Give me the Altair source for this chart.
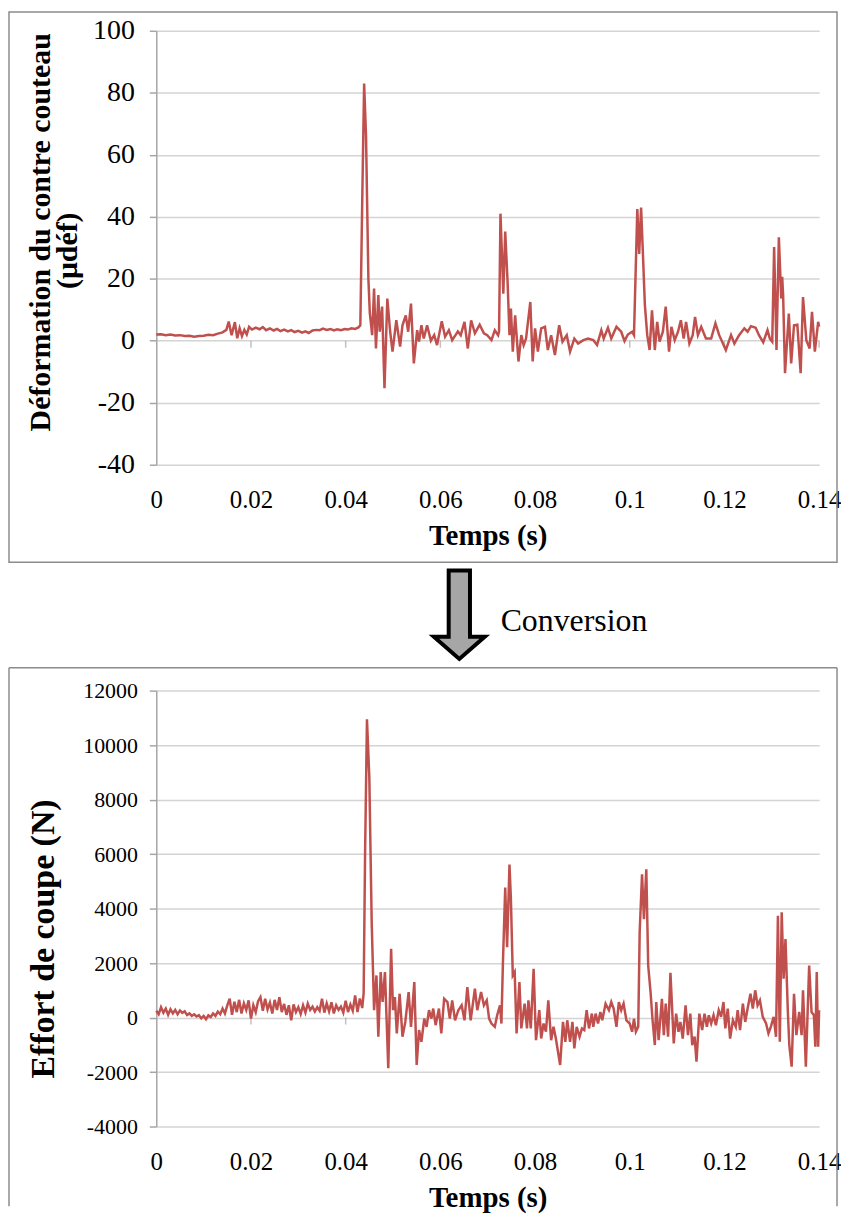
import altair as alt
import pandas as pd

FONT = "Liberation Serif"
RED = "#C0504D"
GRID = "#d4d4d4"
AXIS = "#a6a6a6"
FRAME = "#8c8c8c"

x_ticks = [0, 0.02, 0.04, 0.06, 0.08, 0.1, 0.12, 0.14]
top_y_ticks = [-40, -20, 0, 20, 40, 60, 80, 100]
bot_y_ticks = [-4000, -2000, 0, 2000, 4000, 6000, 8000, 10000, 12000]

# ---- top series: Déformation du contre couteau (µdéf) ----
t_top = [0.000, 0.001, 0.002, 0.003, 0.004, 0.005, 0.006, 0.007, 0.008, 0.009,
         0.010, 0.011, 0.012, 0.013, 0.014, 0.0148, 0.0153, 0.0159, 0.0166, 0.0171,
         0.0176, 0.0181, 0.0186, 0.0191, 0.0196, 0.0202, 0.0210, 0.0218, 0.0225, 0.0232,
         0.0240, 0.0248, 0.0255, 0.0262, 0.0270, 0.0278, 0.0285, 0.0292, 0.0300, 0.0308,
         0.0315, 0.0322, 0.0330, 0.0338, 0.0345, 0.0352, 0.0360, 0.0368, 0.0375, 0.0382,
         0.0390, 0.0398, 0.0405, 0.0412, 0.0420, 0.0427, 0.0431, 0.0435, 0.0439, 0.0443,
         0.0448, 0.0451, 0.0456, 0.0460, 0.0464, 0.0469, 0.0472, 0.0477, 0.0482, 0.0488,
         0.0494, 0.0499, 0.0507, 0.0515, 0.0520, 0.0527, 0.0532, 0.0538, 0.0544, 0.0551,
         0.0555, 0.0560, 0.0565, 0.0572, 0.0580, 0.0587, 0.0593, 0.0603, 0.0610, 0.0618,
         0.0625, 0.0632, 0.0637, 0.0643, 0.0651, 0.0658, 0.0665, 0.0673, 0.0683, 0.0692,
         0.0699, 0.0708, 0.0715, 0.0722, 0.0724, 0.0727, 0.0733, 0.0737, 0.0742, 0.0746,
         0.0749, 0.0753, 0.0758, 0.0765, 0.0771, 0.0776, 0.0781, 0.0790, 0.0795, 0.0800,
         0.0806, 0.0813, 0.0821, 0.0827, 0.0834, 0.0842, 0.0851, 0.0858, 0.0867, 0.0874,
         0.0883, 0.0891, 0.0902, 0.0912, 0.0923, 0.0931, 0.0940, 0.0945, 0.0954, 0.0961,
         0.0972, 0.0982, 0.0989, 0.0996, 0.1005, 0.1009, 0.1016, 0.1020, 0.1024, 0.1028,
         0.1032, 0.1037, 0.1042, 0.1047, 0.1053, 0.1058, 0.1063, 0.1070, 0.1076, 0.1083,
         0.1088, 0.1095, 0.1102, 0.1108, 0.1114, 0.1119, 0.1126, 0.1133, 0.1138, 0.1144,
         0.1151, 0.1161, 0.1172, 0.1181, 0.1189, 0.1203, 0.1214, 0.1221, 0.1231, 0.1242,
         0.1249, 0.1256, 0.1266, 0.1273, 0.1282, 0.1291, 0.1296, 0.1301, 0.1305, 0.1310,
         0.1315, 0.1320, 0.1322, 0.1324, 0.1328, 0.1336, 0.1341, 0.1347, 0.1354, 0.1361,
         0.1366, 0.1373, 0.1380, 0.1385, 0.1391, 0.1398, 0.1400]
v_top = [2.0, 2.1, 1.8, 2.0, 1.7, 1.8, 1.5, 1.6, 1.3, 1.5,
         1.6, 1.9, 1.8, 2.3, 2.7, 3.5, 6.2, 1.8, 6.0, 0.8,
         4.0, 1.5, 3.5, 2.0, 4.5, 3.6, 4.2, 3.7, 4.4, 3.4,
         4.0, 3.3, 3.8, 3.1, 3.6, 3.0, 3.4, 2.8, 3.2, 2.6,
         3.0, 2.5, 3.3, 3.5, 3.4, 3.9, 3.5, 3.8, 3.3, 3.7,
         3.4, 3.8, 3.6, 4.0, 3.8, 4.3, 5.0, 45, 83, 66,
         20, 9, 1.8, 16.8, -2.5, 14.7, 2.9, 11, -15.3, 13.6,
         2.9, -3.5, 6.6, -1.9, 5, 8.2, 2.9, 12, -7.3, 3.4,
         -0.3, 5, 0.7, 5, 0, 1.8, -1.4, 6.3, 1.3, 3.4,
         0.2, 1.8, 3.0, 1.8, 6.1, -2.5, 6.6, 2.4, 5.2, 2.4,
         1.8, 0.2, 3.4, 1.8, 3.0, 41, 15.2, 35.2, 19, 1.8,
         10.4, -3.5, 8.2, -6.7, 1.8, -1.4, 0.7, 12.5, -6.7, 4,
         -3.5, 4, 4.5, -3, 1.8, -4.6, 5, -0.3, 1.8, -3.5,
         0.7, -0.9, 0.2, 0.7, 0.2, -1.4, 3.4, 0.7, 4.2, 0.7,
         4.5, 2.9, -0.1, 2, 2.9, 1.8, 42.5, 28, 43, 27.5,
         11.5, 1.8, -3, 9.8, -3, 6.1, -0.3, 2.9, 11, -3.5,
         4.5, 0.2, 2.9, 6.6, 0.7, 6.1, -0.9, 1.8, 7.7, 1.8,
         4.5, 0.7, 0.7, 5.6, 1.8, -3, 1.8, -0.9, 1.8, 4,
         2.9, 4.7, 4.2, 1.8, -0.5, 3.4, 0.7, -0.3, 30.2, -3,
         33.4, 13.6, 20.6, 14.7, -10.5, 8.8, -7.3, 5, 5.2, -10.5,
         14.1, 0.2, -2.5, 9.3, -3.5, 6.1, 4.5]

# ---- bottom series: Effort de coupe (N) ----
t_bot = [0.0000, 0.0005, 0.0010, 0.0015, 0.0020, 0.0025, 0.0030, 0.0035, 0.0040, 0.0045,
         0.0050, 0.0055, 0.0060, 0.0065, 0.0070, 0.0075, 0.0080, 0.0085, 0.0090, 0.0095,
         0.0100, 0.0105, 0.0110, 0.0115, 0.0120, 0.0125, 0.0130, 0.0135, 0.0140, 0.0145,
         0.0150, 0.0155, 0.0160, 0.0165, 0.0170, 0.0175, 0.0180, 0.0185, 0.0190, 0.0195,
         0.0200, 0.0205, 0.0210, 0.0215, 0.0220, 0.0225, 0.0230, 0.0235, 0.0240, 0.0245,
         0.0250, 0.0255, 0.0260, 0.0265, 0.0270, 0.0275, 0.0280, 0.0285, 0.0290, 0.0295,
         0.0300, 0.0305, 0.0310, 0.0315, 0.0320, 0.0325, 0.0330, 0.0335, 0.0340, 0.0345,
         0.0350, 0.0355, 0.0360, 0.0365, 0.0370, 0.0375, 0.0380, 0.0385, 0.0390, 0.0395,
         0.0400, 0.0405, 0.0410, 0.0415, 0.0420, 0.0425, 0.0430, 0.0435,
         0.0438, 0.0441, 0.0445, 0.0450, 0.0453, 0.0455, 0.0460, 0.0465, 0.0469, 0.0474,
         0.0478, 0.0483, 0.0490, 0.0496, 0.0500, 0.0504, 0.0508, 0.0514, 0.0520, 0.0526,
         0.0533, 0.0538, 0.0545, 0.0550, 0.0555, 0.0560, 0.0566, 0.0571, 0.0576, 0.0581,
         0.0585, 0.0590, 0.0597, 0.0602, 0.0608, 0.0615, 0.0620, 0.0625, 0.0631, 0.0638,
         0.0645, 0.0651, 0.0657, 0.0664, 0.0673, 0.0678, 0.0686, 0.0692, 0.0698, 0.0703,
         0.0708, 0.0715, 0.0720, 0.0726, 0.0729, 0.0732, 0.0737, 0.0741, 0.0746, 0.0749,
         0.0753, 0.0757, 0.0761, 0.0767, 0.0771, 0.0778, 0.0783, 0.0786, 0.0791, 0.0797,
         0.0802, 0.0809, 0.0813, 0.0818, 0.0823, 0.0828, 0.0834, 0.0839, 0.0844, 0.0853,
         0.0859, 0.0864, 0.0868, 0.0874, 0.0879, 0.0883, 0.0888, 0.0894, 0.0899, 0.0904,
         0.0909, 0.0914, 0.0920, 0.0923, 0.0928, 0.0933, 0.0938, 0.0942, 0.0949, 0.0956,
         0.0961, 0.0966, 0.0972, 0.0977, 0.0982, 0.0987, 0.0993, 0.1000, 0.1005, 0.1009,
         0.1013, 0.1018, 0.1021, 0.1026, 0.1030, 0.1035, 0.1039, 0.1044, 0.1048, 0.1053,
         0.1056, 0.1061, 0.1068, 0.1072, 0.1076, 0.1081, 0.1086, 0.1093, 0.1098, 0.1103,
         0.1107, 0.1112, 0.1118, 0.1123, 0.1128, 0.1132, 0.1137, 0.1141, 0.1147, 0.1153,
         0.1158, 0.1163, 0.1167, 0.1172, 0.1177, 0.1182, 0.1188, 0.1193, 0.1198, 0.1202,
         0.1207, 0.1212, 0.1218, 0.1224, 0.1228, 0.1233, 0.1239, 0.1244, 0.1249, 0.1255,
         0.1260, 0.1265, 0.1270, 0.1275, 0.1281, 0.1288, 0.1293, 0.1298, 0.1304, 0.1309,
         0.1313, 0.1317, 0.1321, 0.1325, 0.1329, 0.1334, 0.1337, 0.1342, 0.1347, 0.1352,
         0.1358, 0.1363, 0.1366, 0.1372, 0.1379, 0.1384, 0.1389, 0.1392, 0.1395, 0.1398,
         0.1400]
v_bot = [250, 120, 380, 180, 330, 100, 300, 150, 280, 120,
         260, 170, 230, 90, 150, 60, 120, 40, 90, -30,
         60, -60, 80, 20, 150, 60, 220, 120, 330, 150,
         450, 690, 100, 580, 200, 650, 150, 520, 280, 630,
         -40, 450, 200, 600, 750, 250, 690, 300, 550, 150,
         650, 280, 750, 200, 500, 100, 450, -100, 480, 200,
         380, 130, 450, 180, 510, 280, 400, 220, 380, 250,
         690, 180, 520, 230, 560, 150, 450, 280, 400, 180,
         620, 200, 480, 250, 810, 200, 700, 350,
         900, 6000, 10950, 8800, 5560, 3490, 270, 1545, -705, 1667,
         570, 1667, -1860, 2520, 270, 750, -585, 875, -705, -160,
         935, -340, 1300, -1740, -460, -890, -40, -340, 270, -40,
         330, -280, 330, -585, 690, 570, -40, 630, -100, 270,
         450, -100, 1120, -100, 1060, 270, 935, 450, 630, -40,
         -220, -340, 85, 450, -220, 1900, 4770, 2580, 5620, 4345,
         1545, 1670, -585, 1300, -400, 510, -400, 630, -400, 1790,
         -830, 270, -770, -220, -520, 630, -830, -340, -770, -1740,
         -160, -890, -100, -890, -160, -1130, -340, -705, -400, -460,
         270, -400, 145, -340, 145, -220, 205, -100, 510, 270,
         570, 330, -340, 570, 270, 510, -100, -220, -520, -40,
         -520, -340, 3130, 5260, 3610, 5440, 1910, 935, -40, -1010,
         570, -830, 690, -645, 510, -705, 1640, -950, 145, -520,
         -160, -770, 450, -645, 145, -1010, -700, -1620, 145, -460,
         145, -340, 85, -220, 85, -280, 270, 25, 570, -400,
         330, -770, -100, -340, 270, -460, 510, -160, 330, 875,
         330, 1000, 450, 630, 25, -220, -585, -340, 25, -705,
         3740, -890, 3860, 1425, 2885, 205, -1000, -1800, 875, -645,
         205, -645, 1000, -1800, 1910, 205, 85, -1070, 1667, -1070,
         270]

top_df = pd.DataFrame({"t": t_top, "v": v_top})
bot_df = pd.DataFrame({"t": t_bot, "v": v_bot})
tick_df = pd.DataFrame({"t": x_ticks[1:], "v": [0] * (len(x_ticks) - 1)})
one = pd.DataFrame({"k": [0]})

W = 666
H1 = 436
H2 = 438


def x_enc(label_size, title_size):
    return alt.X(
        "t:Q",
        scale=alt.Scale(domain=[0, 0.14], nice=False, zero=False),
        axis=alt.Axis(
            values=x_ticks, labelExpr="'' + datum.value", grid=False, domain=False,
            ticks=False, tickSize=0, labelPadding=23, labelFlush=False, labelOverlap=False,
            labelFont=FONT, labelFontSize=label_size, labelColor="black",
            title="Temps (s)", titleFont=FONT, titleFontSize=title_size,
            titleFontWeight="bold", titleColor="black", titleY=71,
            titleBaseline="middle",
        ),
    )


def y_enc(domain, ticks, title, label_size, label_pad, title_size, tx, ty):
    return alt.Y(
        "v:Q",
        scale=alt.Scale(domain=domain, nice=False, zero=False),
        axis=alt.Axis(
            values=ticks, labelExpr="'' + datum.value", grid=True, gridColor=GRID,
            gridWidth=1.5, domain=True, domainColor=AXIS, domainWidth=1.5,
            ticks=True, tickColor=AXIS, tickWidth=1.5, tickSize=7, labelPadding=label_pad,
            labelOverlap=False, labelFont=FONT, labelFontSize=label_size,
            labelColor="black", title=title, titleFont=FONT,
            titleFontSize=title_size, titleFontWeight="bold", titleColor="black",
            titleX=tx, titleY=ty, titleAngle=-90, titleAlign="center",
            titleBaseline="middle",
        ),
    )


def panel_layers(df, ydomain, yticks, ytitle, ylab, ypad, ytitle_size, tx, ty):
    xe = x_enc(25, 29)
    ye = y_enc(ydomain, yticks, ytitle, ylab, ypad, ytitle_size, tx, ty)
    line = alt.Chart(df).mark_line(color=RED, strokeWidth=2.5).encode(x=xe, y=ye)
    ticks = alt.Chart(tick_df).mark_tick(
        orient="vertical", size=7, thickness=1.5, color=AXIS, yOffset=3.5
    ).encode(x=xe, y=ye)
    return line, ticks


# ---------------- top panel ----------------
top_frame = alt.Chart(one).mark_rect(
    fill="transparent", stroke=FRAME, strokeWidth=1.5
).encode(x=alt.value(-148), x2=alt.value(W + 18), y=alt.value(-19), y2=alt.value(H1 + 98))

top_line, top_ticks = panel_layers(
    top_df, [-40, 100], top_y_ticks, "Déformation du contre couteau",
    28, 15, 30, -116, 202
)

top_unit = alt.Chart(one).mark_text(
    text="(μdéf)", font=FONT, fontSize=30, fontWeight="bold", angle=270,
    align="center", baseline="middle", color="black",
).encode(x=alt.value(-89), y=alt.value(221))

top = alt.layer(top_ticks, top_line, top_frame, top_unit).properties(width=W, height=H1)

# ---------------- bottom panel ----------------
frame_rule = alt.Chart(one).mark_rule(color=FRAME, strokeWidth=1.5)
b_left = frame_rule.encode(x=alt.value(-148), y=alt.value(-23), y2=alt.value(H2 + 80))
b_top = frame_rule.encode(x=alt.value(-148), x2=alt.value(W + 18), y=alt.value(-23))
b_right = frame_rule.encode(x=alt.value(W + 18), y=alt.value(-23), y2=alt.value(H2 + 80))

arrow_path = "M -0.23 -0.97 L 0.23 -0.97 L 0.23 0.46 L 0.55 0.46 L 0 0.94 L -0.55 0.46 L -0.23 0.46 Z"
arrow = alt.Chart(one).mark_point(
    shape=arrow_path, size=8649, filled=True, fill="#a6a6a6", fillOpacity=1,
    stroke="black", strokeWidth=4, strokeOpacity=1, opacity=1, strokeJoin="miter",
).encode(x=alt.value(304.5), y=alt.value(-75.5))

conv = alt.Chart(one).mark_text(
    text="Conversion", font=FONT, fontSize=32, align="left", baseline="alphabetic",
    color="black",
).encode(x=alt.value(346), y=alt.value(-60))

bot_line, bot_ticks = panel_layers(
    bot_df, [-4000, 12000], bot_y_ticks, "Effort de coupe (N)", 22, 12, 34, -113, 249
)

bottom = alt.layer(bot_ticks, bot_line, b_left, b_top, b_right, arrow, conv).properties(
    width=W, height=H2
)

chart = alt.vconcat(top, bottom, spacing=-1, padding=0).configure_view(strokeWidth=0)

chart.save("out.html", embed_options={"renderer": "svg", "actions": False})
